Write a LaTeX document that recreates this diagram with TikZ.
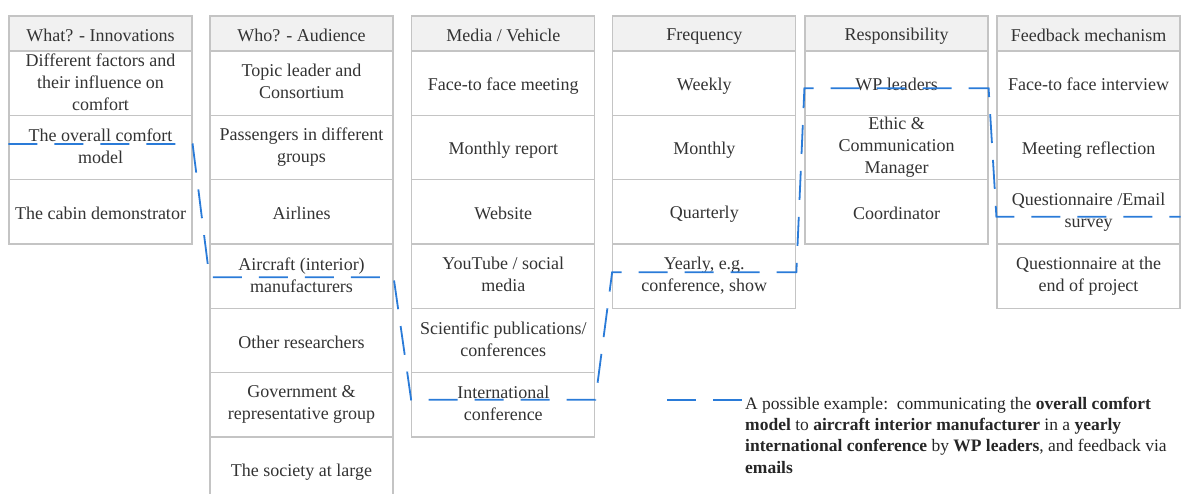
\documentclass[tikz,border=0pt]{standalone}
\usepackage{fontspec}
\setmainfont{Liberation Serif}
\definecolor{gridgray}{HTML}{C4C4C4}
\definecolor{headfill}{HTML}{F1F1F1}
\definecolor{txtgray}{HTML}{333333}
\definecolor{pathblue}{HTML}{2A7BD8}
\newcommand\cellstrutB{\rule[-3pt]{0pt}{21pt}}
\begin{document}
\begin{tikzpicture}[x=1pt,y=-1pt,
  cellbox/.style={draw=gridgray, line width=1.2pt, minimum width=183pt, minimum height=64.33pt,
    inner sep=0pt, align=center, text=txtgray, font=\fontsize{18}{22}\selectfont,
    execute at end node=\cellstrutB},
  headbox/.style={cellbox, fill=headfill, minimum height=35pt},
  routeline/.style={draw=pathblue, line width=1.8pt, dash pattern=on 29pt off 17pt},
  legendtext/.style={anchor=base west, align=left, inner sep=0pt, text=black!85, font=\fontsize{17.5}{21.3}\selectfont}]
\useasboundingbox (0,0) rectangle (1182,493);
% column 1
\node[headbox] (h1) at (100.5,33.5) {What? - Innovations};
\node[cellbox] (c11) at (100.5,83.17) {Different factors and\\their influence on\\comfort};
\node[cellbox] (c12) at (100.5,147.5) {The overall comfort\\model};
\node[cellbox] (c13) at (100.5,211.83) {The cabin demonstrator};
% column 2
\node[headbox] (h2) at (301.5,33.5) {Who? - Audience};
\node[cellbox] (c21) at (301.5,83.17) {Topic leader and\\Consortium};
\node[cellbox] (c22) at (301.5,147.5) {Passengers in different\\groups};
\node[cellbox] (c23) at (301.5,211.83) {Airlines};
\node[cellbox] (c24) at (301.5,276.17) {Aircraft (interior)\\manufacturers};
\node[cellbox] (c25) at (301.5,340.5) {Other researchers};
\node[cellbox] (c26) at (301.5,404.83) {Government \&\\representative group};
\node[cellbox] (c27) at (301.5,469.17) {The society at large};
% column 3
\node[headbox] (h3) at (503.25,33.5) {Media / Vehicle};
\node[cellbox] (c31) at (503.25,83.17) {Face-to face meeting};
\node[cellbox] (c32) at (503.25,147.5) {Monthly report};
\node[cellbox] (c33) at (503.25,211.83) {Website};
\node[cellbox] (c34) at (503.25,276.17) {YouTube / social\\media};
\node[cellbox] (c35) at (503.25,340.5) {Scientific publications/\\conferences};
\node[cellbox] (c36) at (503.25,404.83) {International\\conference};
% column 4
\node[headbox] (h4) at (704.25,33.5) {Frequency};
\node[cellbox] (c41) at (704.25,83.17) {Weekly};
\node[cellbox] (c42) at (704.25,147.5) {Monthly};
\node[cellbox] (c43) at (704.25,211.83) {Quarterly};
\node[cellbox] (c44) at (704.25,276.17) {Yearly, e.g.\\conference, show};
% column 5
\node[headbox] (h5) at (896.5,33.5) {Responsibility};
\node[cellbox] (c51) at (896.5,83.17) {WP leaders};
\node[cellbox] (c52) at (896.5,147.5) {Ethic \&\\Communication\\Manager};
\node[cellbox] (c53) at (896.5,211.83) {Coordinator};
% column 6
\node[headbox] (h6) at (1088.5,33.5) {Feedback mechanism};
\node[cellbox] (c61) at (1088.5,83.17) {Face-to face interview};
\node[cellbox] (c62) at (1088.5,147.5) {Meeting reflection};
\node[cellbox] (c63) at (1088.5,211.83) {Questionnaire /Email\\survey};
\node[cellbox] (c64) at (1088.5,276.17) {Questionnaire at the\\end of project};
% example route
\draw[routeline] ([yshift=3.5pt]c12.west) -- ([yshift=3.5pt]c12.east)
  -- ([yshift=-1pt]c24.west) -- ([yshift=-1pt]c24.east)
  -- ([yshift=5pt]c36.west) -- ([yshift=5pt]c36.east)
  -- ([yshift=4pt]c44.west) -- ([yshift=4pt]c44.east)
  -- ([yshift=-5pt]c51.west) -- ([yshift=-5pt]c51.east)
  -- ([yshift=-5pt]c63.west) -- ([yshift=-5pt]c63.east);
% legend
\coordinate (k1) at (667,400);
\coordinate (k2) at (742,400);
\draw[routeline] (k1) -- (k2);
\node[legendtext] (legend) at (745,473) {A possible example:\ \ communicating the \textbf{overall comfort}\\
\textbf{model} to \textbf{aircraft interior manufacturer} in a \textbf{yearly}\\
\textbf{international conference} by \textbf{WP leaders}, and feedback via\\
\textbf{emails}};
\end{tikzpicture}
\end{document}
